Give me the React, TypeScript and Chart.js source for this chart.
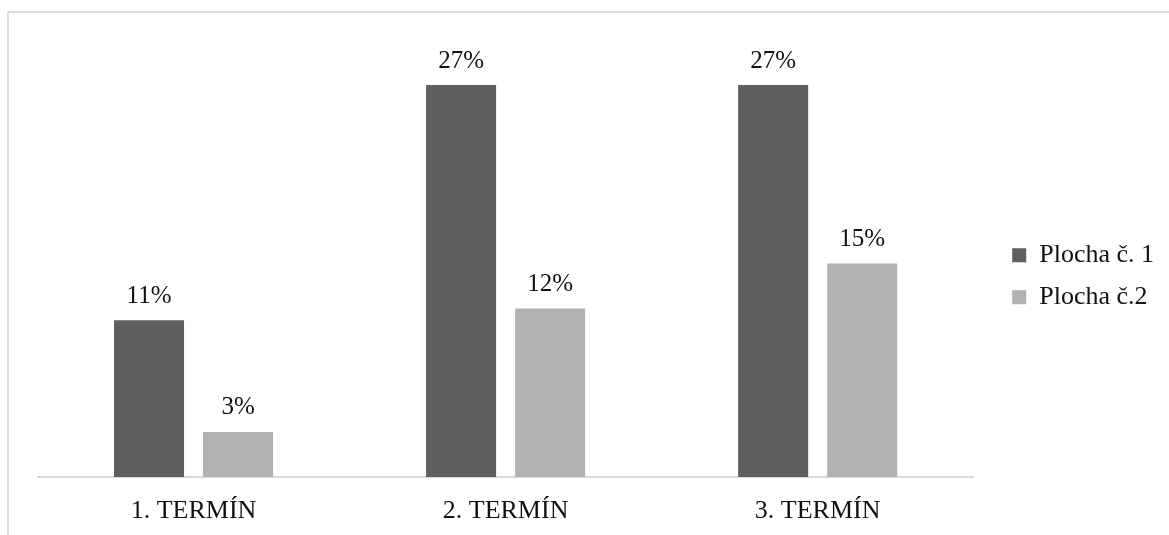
import React, { useEffect, useRef } from 'react';
import { Chart, registerables } from 'chart.js';

Chart.register(...registerables);

const categories = ['1. TERMÍN', '2. TERMÍN', '3. TERMÍN'];
const seriesNames = ['Plocha č. 1', 'Plocha č.2'];
const plocha1 = [10.8, 27, 27];
const plocha2 = [3.1, 11.6, 14.7];
const seriesColors = ['#5f5f5f', '#b2b2b2'];
const yAxisMax = 31.66;

const FONT = "'Liberation Serif', 'Times New Roman', serif";
const TEXT = '#111111';

const valueLabels = {
  id: 'valueLabels',
  afterDatasetsDraw(chart: any) {
    const ctx = chart.ctx;
    ctx.save();
    ctx.font = `25px ${FONT}`;
    ctx.fillStyle = TEXT;
    ctx.textAlign = 'center';
    ctx.textBaseline = 'alphabetic';
    chart.data.datasets.forEach((ds: any, i: number) => {
      const meta = chart.getDatasetMeta(i);
      meta.data.forEach((el: any, j: number) => {
        const v = ds.data[j] as number;
        ctx.fillText(Math.round(v) + '%', el.x, el.y - 17.5);
      });
    });
    ctx.restore();
  },
};

export default function App() {
  const ref = useRef<HTMLCanvasElement | null>(null);

  useEffect(() => {
    if (!ref.current) return;
    const chart = new Chart(ref.current, {
      type: 'bar',
      data: {
        labels: categories,
        datasets: [
          {
            label: seriesNames[0],
            data: plocha1,
            backgroundColor: seriesColors[0],
            borderWidth: 0,
            categoryPercentage: 0.5705,
            barPercentage: 0.7865,
          },
          {
            label: seriesNames[1],
            data: plocha2,
            backgroundColor: seriesColors[1],
            borderWidth: 0,
            categoryPercentage: 0.5705,
            barPercentage: 0.7865,
          },
        ],
      },
      options: {
        responsive: false,
        animation: false,
        layout: { padding: { left: 37.5, top: 17.4, right: 5, bottom: 0 } },
        plugins: {
          tooltip: { enabled: false },
          legend: {
            position: 'right',
            labels: {
              boxWidth: 14,
              boxHeight: 14,
              padding: 16,
              color: TEXT,
              font: { family: FONT, size: 26 },
            },
          },
        },
        scales: {
          x: {
            grid: { display: true, drawOnChartArea: false, drawTicks: false },
            border: { display: true, color: '#d9d9d9', width: 2 },
            ticks: { color: TEXT, font: { family: FONT, size: 26 }, padding: 19 },
            afterFit: (s: any) => {
              s.height = 58;
            },
          },
          y: {
            position: 'right',
            min: 0,
            max: yAxisMax,
            ticks: { display: false },
            grid: { display: false },
            border: { display: false },
            afterFit: (s: any) => {
              s.width = 22.5;
            },
          },
        },
      },
      plugins: [valueLabels],
    } as any);
    return () => chart.destroy();
  }, []);

  return (
    <div
      style={{
        position: 'fixed',
        left: 0,
        top: 0,
        width: 1169,
        height: 535,
        overflow: 'hidden',
        background: '#ffffff',
      }}
    >
      <div
        style={{
          position: 'absolute',
          left: 7,
          top: 11,
          width: 1300,
          height: 700,
          border: '2px solid #dedede',
          boxSizing: 'border-box',
        }}
      />
      <canvas
        ref={ref}
        width={1169}
        height={535}
        style={{ position: 'absolute', left: 0, top: 0, width: 1169, height: 535 }}
      />
    </div>
  );
}
